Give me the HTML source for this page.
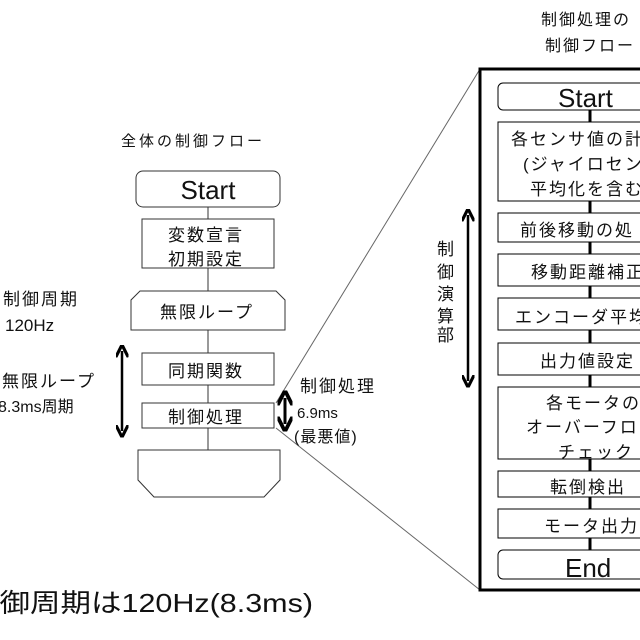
<!DOCTYPE html>
<html><head><meta charset="utf-8"><style>
html,body{margin:0;padding:0;background:#fff;width:640px;height:640px;overflow:hidden}
text{font-family:"Liberation Sans","Noto Sans CJK JP",sans-serif;fill:#111}
</style></head><body>
<svg width="640" height="640" viewBox="0 0 640 640" xmlns="http://www.w3.org/2000/svg">
<defs>
<marker id="ah" viewBox="0 0 10 10" refX="5" refY="5" markerWidth="5" markerHeight="5" orient="auto-start-reverse"><path d="M0,0 L10,5 L0,10" fill="none" stroke="#000" stroke-width="2.5"/></marker>
</defs>
<g fill="#fff" stroke="#333" stroke-width="1">
<line x1="208" y1="207" x2="208" y2="450"/>
<rect x="136" y="171" width="144" height="36" rx="7"/>
<rect x="142" y="219" width="132" height="49"/>
<path d="M140,291 L276,291 L285,300 L285,330 L131,330 L131,300 Z"/>
<rect x="142" y="353" width="132" height="32"/>
<rect x="142" y="403" width="132" height="25"/>
<path d="M138,450 L280,450 L280,480 L264,497 L154,497 L138,480 Z"/>
<line x1="276" y1="403" x2="480" y2="69" stroke="#666"/>
<line x1="276" y1="428" x2="480" y2="590" stroke="#666"/>
</g>
<text x="121" y="146" font-size="15" letter-spacing="3">全体の制御フロー</text>
<text x="208" y="199" font-size="26" text-anchor="middle">Start</text>
<text x="168" y="241" font-size="17" letter-spacing="2">変数宣言</text>
<text x="168" y="265" font-size="17" letter-spacing="2">初期設定</text>
<text x="160" y="318" font-size="17" letter-spacing="2">無限ループ</text>
<text x="168" y="377" font-size="17" letter-spacing="2">同期関数</text>
<text x="168" y="423" font-size="17" letter-spacing="2">制御処理</text>
<text x="3" y="305" font-size="17" letter-spacing="2">制御周期</text>
<text x="5" y="331" font-size="17" fill="#222">120Hz</text>
<text x="2" y="387" font-size="17" letter-spacing="2">無限ループ</text>
<text x="-2" y="412" font-size="16">8.3ms周期</text>
<line x1="122" y1="351" x2="122" y2="431" stroke="#000" stroke-width="2.5" marker-start="url(#ah)" marker-end="url(#ah)"/>
<line x1="285" y1="398" x2="285" y2="424" stroke="#000" stroke-width="3" marker-start="url(#ah)" marker-end="url(#ah)"/>
<text x="300" y="392" font-size="17" letter-spacing="2">制御処理</text>
<text x="297" y="418" font-size="15">6.9ms</text>
<text x="294" y="442" font-size="16" letter-spacing="1">(最悪値)</text>
<text x="-31" y="612" font-size="26" textLength="344" lengthAdjust="spacingAndGlyphs">制御周期は120Hz(8.3ms)</text>
<text x="541" y="25" font-size="16" letter-spacing="2">制御処理の</text>
<text x="545" y="51" font-size="16" letter-spacing="2">制御フロー</text>
<rect x="480" y="69" width="200" height="521" fill="#fff" stroke="#000" stroke-width="3"/>
<line x1="590" y1="110" x2="590" y2="550" stroke="#000" stroke-width="3"/>
<g fill="#fff" stroke="#000" stroke-width="1">
<rect x="498" y="83" width="170" height="27" rx="5"/>
<rect x="498" y="122" width="170" height="79"/>
<rect x="498" y="213" width="170" height="29"/>
<rect x="498" y="254" width="170" height="32"/>
<rect x="498" y="298" width="170" height="32"/>
<rect x="498" y="343" width="170" height="32"/>
<rect x="498" y="387" width="170" height="72"/>
<rect x="498" y="471" width="170" height="26"/>
<rect x="498" y="509" width="170" height="29"/>
<rect x="498" y="550" width="170" height="29" rx="5"/>
</g>
<text x="558" y="107" font-size="26">Start</text>
<text x="511" y="145" font-size="17" letter-spacing="2">各センサ値の計</text>
<text x="523" y="170" font-size="17" letter-spacing="2">(ジャイロセンサ</text>
<text x="530" y="195" font-size="17" letter-spacing="2">平均化を含む</text>
<text x="520" y="236" font-size="17" letter-spacing="2">前後移動の処</text>
<text x="531" y="278" font-size="17" letter-spacing="2">移動距離補正</text>
<text x="515" y="323" font-size="17" letter-spacing="2">エンコーダ平均</text>
<text x="540" y="367" font-size="17" letter-spacing="2">出力値設定</text>
<text x="546" y="409" font-size="17" letter-spacing="2">各モータの</text>
<text x="526" y="433" font-size="17" letter-spacing="2">オーバーフロ</text>
<text x="558" y="458" font-size="17" letter-spacing="2">チェック</text>
<text x="550" y="493" font-size="17" letter-spacing="2">転倒検出</text>
<text x="544" y="532" font-size="17" letter-spacing="2">モータ出力</text>
<text x="565" y="577" font-size="26">End</text>
<line x1="468" y1="215" x2="468" y2="381" stroke="#000" stroke-width="2.5" marker-start="url(#ah)" marker-end="url(#ah)"/>
<g font-size="17">
<text x="437" y="255">制</text>
<text x="437" y="278">御</text>
<text x="437" y="300">演</text>
<text x="437" y="322">算</text>
<text x="437" y="341">部</text>
</g>
</svg>
</body></html>
